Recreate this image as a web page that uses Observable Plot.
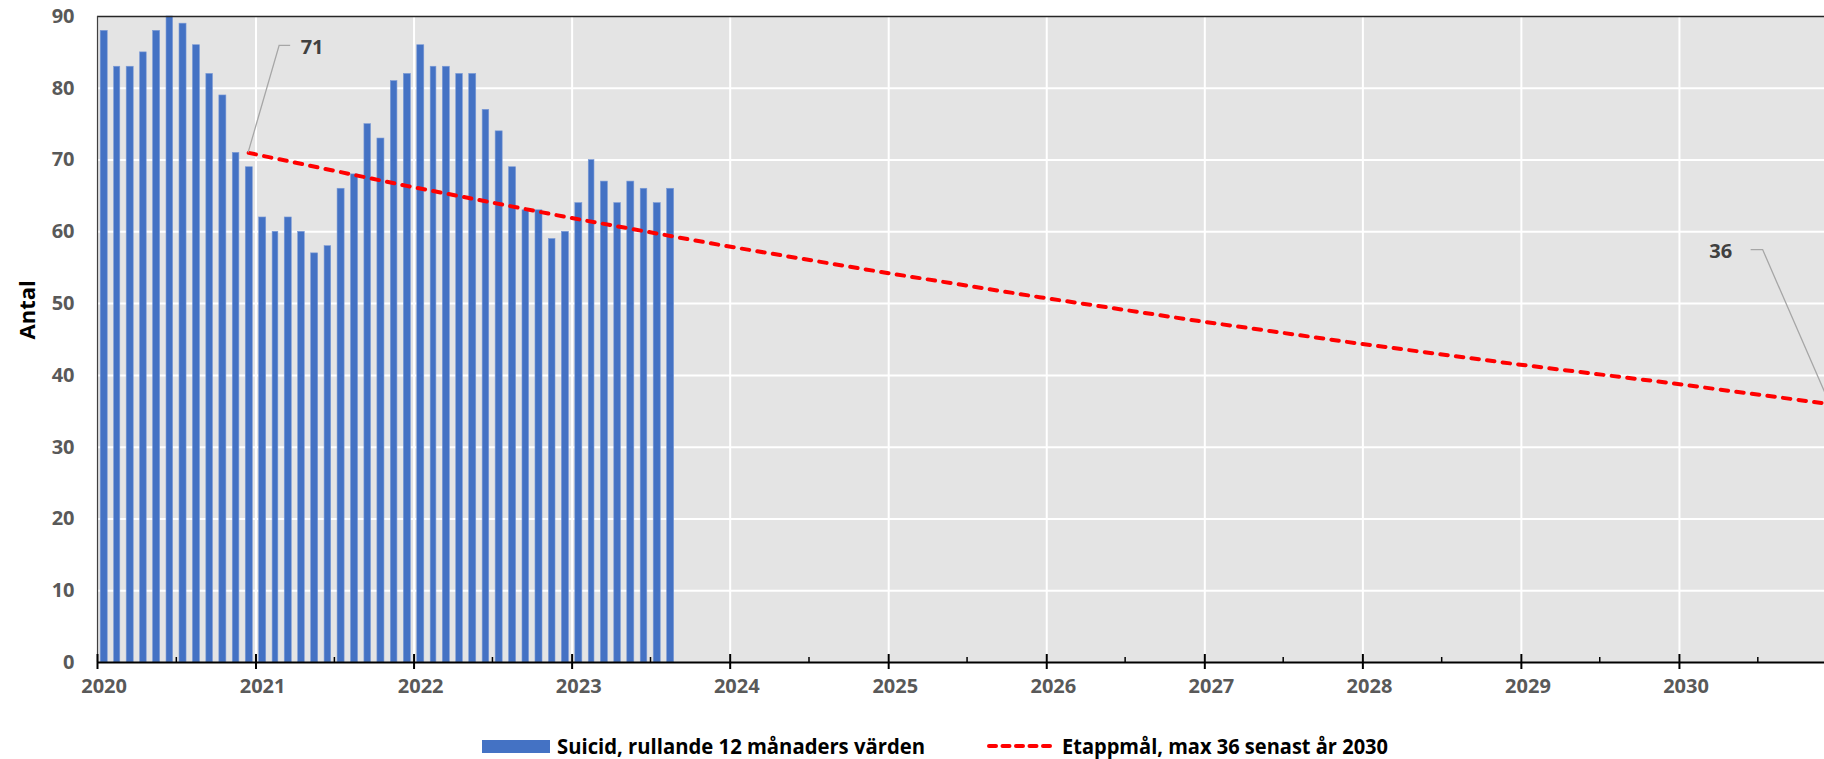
<!DOCTYPE html>
<html>
<head>
<meta charset="utf-8">
<script src="https://cdn.jsdelivr.net/npm/d3@7"></script>
<script src="https://cdn.jsdelivr.net/npm/@observablehq/plot@0.6"></script>
<style>
html, body { margin: 0; padding: 0; background: #fff; overflow: hidden; width: 1824px; height: 759px; }
#chart { width: 1824px; overflow: hidden; }
#chart svg { display: block; max-width: none !important; width: 1837px !important; height: 712px !important; }
.legend { position: relative; width: 1824px; height: 47px; font-family: "Open Sans", sans-serif; font-weight: 700; font-size: 21px; color: #000; }
.legend .lt { position: absolute; top: 22px; height: 24px; line-height: 24px; white-space: nowrap; display: inline-block; transform-origin: left center; }
</style>
</head>
<body>
<div id="chart"></div>
<div class="legend">
  <span style="position:absolute;left:482px;top:28px;width:68px;height:13px;background:#4472C4"></span>
  <span class="lt" id="lt1" data-w="368" style="left:557px">Suicid, rullande 12 månaders värden</span>
  <svg style="position:absolute;left:986px;top:29px" width="72" height="10"><line x1="3" y1="5" x2="69" y2="5" stroke="#FF0000" stroke-width="4" stroke-dasharray="7,6.5" stroke-linecap="round"/></svg>
  <span class="lt" id="lt2" data-w="326" style="left:1062px">Etappmål, max 36 senast år 2030</span>
</div>
<script>
// Months (categories) of the bar series
const months = [
  "2020-01","2020-02","2020-03","2020-04","2020-05","2020-06","2020-07","2020-08","2020-09","2020-10","2020-11","2020-12",
  "2021-01","2021-02","2021-03","2021-04","2021-05","2021-06","2021-07","2021-08","2021-09","2021-10","2021-11","2021-12",
  "2022-01","2022-02","2022-03","2022-04","2022-05","2022-06","2022-07","2022-08","2022-09","2022-10","2022-11","2022-12",
  "2023-01","2023-02","2023-03","2023-04","2023-05","2023-06","2023-07","2023-08"
];
// Suicid, rullande 12 månaders värden
const suicides = [
  88, 83, 83, 85, 88, 90, 89, 86, 82, 79, 71, 69,
  62, 60, 62, 60, 57, 58, 66, 68, 75, 73, 81, 82,
  86, 83, 83, 82, 82, 77, 74, 69, 63, 63, 59, 60,
  64, 70, 67, 64, 67, 66, 64, 66
];
// Etappmål line, read at mid-December each year
const targetDates = ["2020-12-15","2021-12-15","2022-12-15","2023-12-15","2024-12-15","2025-12-15","2026-12-15","2027-12-15","2028-12-15","2029-12-15","2030-12-15"];
const targetValues = [71, 66.4, 62.1, 58.1, 54.4, 50.9, 47.6, 44.5, 41.6, 38.9, 36];
// Axis ticks
const yTicks = [0, 10, 20, 30, 40, 50, 60, 70, 80, 90];
const yearTicks = ["2020","2021","2022","2023","2024","2025","2026","2027","2028","2029","2030"];
const xDomain = ["2020-01-01", "2031-01-01"];

const bars = months.map((m, i) => ({date: new Date(m + "-01T00:00Z"), value: suicides[i]}));
const target = targetDates.map((d, i) => ({date: new Date(d + "T00:00Z"), value: targetValues[i]}));
const years = yearTicks.map(y => new Date(y + "-01-01T00:00Z"));
const midYears = yearTicks.map(y => new Date(y + "-07-01T00:00Z"));
const gridYears = years.slice(1);
const gridY = yTicks.slice(1, -1);

const font = "'Open Sans', sans-serif";
const chart = Plot.plot({
  width: 1837,
  height: 712,
  marginLeft: 97,
  marginRight: 0,
  marginTop: 16,
  marginBottom: 50,
  style: {fontFamily: font, background: "#fff", overflow: "visible", maxWidth: "none"},
  x: {type: "utc", domain: xDomain.map(d => new Date(d + "T00:00Z")), axis: null},
  y: {domain: [0, 90], axis: null},
  marks: [
    Plot.frame({fill: "#E4E4E4", stroke: "none"}),
    Plot.ruleY(gridY, {stroke: "#fff", strokeWidth: 2}),
    Plot.ruleX(gridYears, {stroke: "#fff", strokeWidth: 2}),
    Plot.rectY(bars, {x: "date", interval: d3.utcMonth, y: "value", fill: "#4472C4", stroke: "#7C9BD6", strokeWidth: 0.6, insetLeft: 3.2, insetRight: 3.2}),
    Plot.line(target, {x: "date", y: "value", stroke: "#FF0000", strokeWidth: 4, strokeDasharray: "7.5,8.2", strokeLinecap: "round"}),
    Plot.ruleY([90], {stroke: "#262626", strokeWidth: 1.3}),
    Plot.ruleX([years[0]], {stroke: "#404040", strokeWidth: 1.2}),
    Plot.ruleY([0], {stroke: "#000", strokeWidth: 2}),
    Plot.ruleX(years, {stroke: "#000", strokeWidth: 2, insetTop: 638, insetBottom: -7}),
    Plot.ruleX(midYears, {stroke: "#000", strokeWidth: 1.5, insetTop: 641}),
    Plot.text(years, {x: d => d, frameAnchor: "bottom", dy: 30, dx: 6.6, text: (d, i) => yearTicks[i], fontSize: 20, fontWeight: "bold", fill: "#595959"}),
    Plot.text(yTicks, {y: d => d, frameAnchor: "left", dx: -23, textAnchor: "end", text: d => String(d), fontSize: 20, fontWeight: "bold", fill: "#595959"}),
    Plot.text(["Antal"], {frameAnchor: "left", dx: -70, rotate: -90, fontSize: 22, fontWeight: "bold", fill: "#000"}),
    Plot.text([target[0]], {x: "date", y: "value", text: d => String(Math.round(d.value)), dx: 52, dy: -105, textAnchor: "start", fontSize: 20, fontWeight: "bold", fill: "#404040"}),
    Plot.text([target[target.length - 1]], {x: "date", y: "value", text: d => String(Math.round(d.value)), dx: -98, dy: -153, textAnchor: "end", fontSize: 20, fontWeight: "bold", fill: "#404040"})
  ]
});
document.getElementById("chart").appendChild(chart);

// Leader lines from data labels to the target line end points (pixel offsets relative to scaled points)
const sx = chart.scale("x"), sy = chart.scale("y");
const leaders = [
  {p: target[0], e: [31, -107], h: [42, -107]},
  {p: target[target.length - 1], e: [-67, -154], h: [-79, -154]}
];
const svg = d3.select(chart);
for (const l of leaders) {
  const px = sx.apply(l.p.date), py = sy.apply(l.p.value);
  svg.append("path")
    .attr("d", `M${px},${py}L${px + l.e[0]},${py + l.e[1]}L${px + l.h[0]},${py + l.h[1]}`)
    .attr("fill", "none").attr("stroke", "#A6A6A6").attr("stroke-width", 1.3);
}

// Fit legend text widths to the reference
for (const el of document.querySelectorAll(".legend .lt")) {
  const w = el.getBoundingClientRect().width;
  el.style.transform = `scaleX(${(+el.dataset.w) / w})`;
}
</script>
</body>
</html>
